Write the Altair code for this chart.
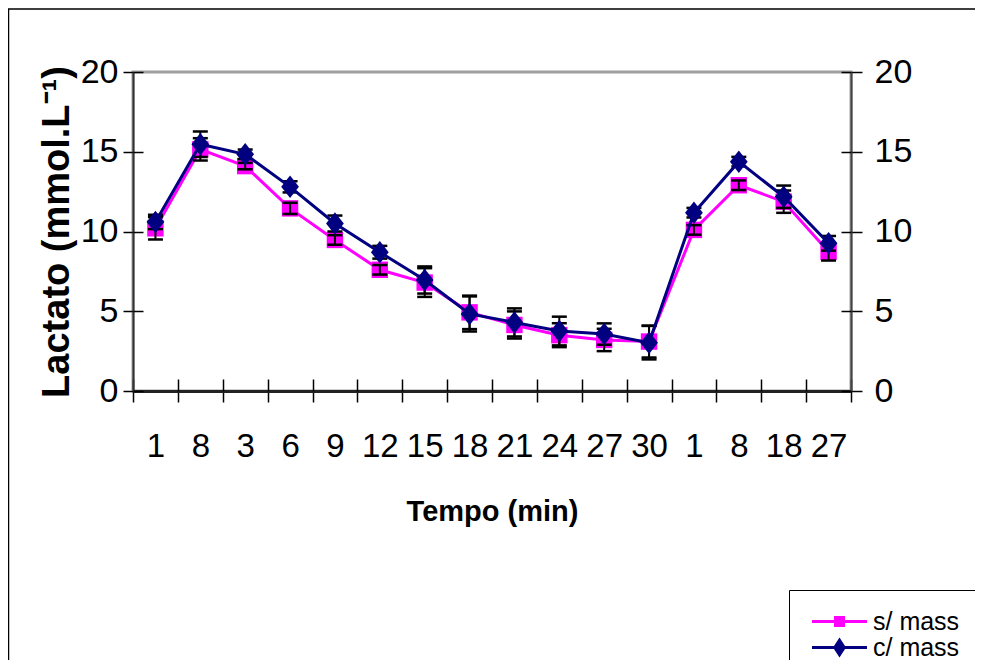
import json
import altair as alt
import pandas as pd

# ---- data ----
tick_labels = ["1", "8", "3", "6", "9", "12", "15", "18", "21", "24", "27", "30", "1", "8", "18", "27"]
series_names = ["s/ mass", "c/ mass"]
s_mean = [10.2, 15.15, 14.1, 11.45, 9.47, 7.6, 6.8, 4.93, 4.14, 3.5, 3.2, 3.1, 10.1, 12.9, 11.87, 8.73]
s_err = [0.7, 0.7, 0.2, 0.35, 0.3, 0.3, 0.9, 1.05, 0.85, 0.75, 0.7, 1.0, 0.3, 0.3, 0.7, 0.55]
c_mean = [10.6, 15.47, 14.84, 12.8, 10.5, 8.7, 6.96, 4.83, 4.3, 3.76, 3.57, 3.03, 11.18, 14.38, 12.18, 9.26]
c_err = [0.45, 0.8, 0.3, 0.35, 0.5, 0.4, 0.85, 1.1, 0.88, 0.9, 0.67, 1.05, 0.3, 0.3, 0.7, 0.46]
y_ticks = [0, 5, 10, 15, 20]

rows = []
for name, means, errs in ((series_names[0], s_mean, s_err), (series_names[1], c_mean, c_err)):
    for i, (m, e) in enumerate(zip(means, errs)):
        rows.append({"idx": i, "series": name, "mean": m, "lo": m - e, "hi": m + e})
df = pd.DataFrame(rows)

MAG = "#FF00FF"
NAVY = "#000080"
SANS = "Liberation Sans, Arial, sans-serif"

W, H = 718, 319
x_scale = alt.Scale(type="band", paddingInner=0, paddingOuter=0, domain=list(range(len(tick_labels))))
y_scale = alt.Scale(domain=[0, 20], nice=False)
label_expr = json.dumps(tick_labels) + "[datum.value]"

x_axis_main = alt.Axis(
    orient="bottom", title="Tempo (min)", labelExpr=label_expr, labelAngle=0,
    labelFont=SANS, labelFontSize=33, labelColor="black", labelPadding=28,
    labelOverlap=False, tickBand="extent", tickSize=11, tickWidth=1.5, tickColor="black",
    domainColor="#222222", domainWidth=3, grid=False,
    titleFont=SANS, titleFontSize=29, titleFontWeight="bold", titleColor="black",
    titlePadding=34,
)
x_axis_in = alt.Axis(
    orient="bottom", title=None, labels=False, domain=False, offset=-12, tickSize=12,
    tickBand="extent", tickWidth=1.5, tickColor="black", grid=False,
)
y_axis_left = alt.Axis(
    orient="left", values=y_ticks, title="Lactato (mmol.L⁻¹)", tickSize=10, tickWidth=1.5,
    tickColor="black", labelFont=SANS, labelFontSize=34, labelColor="black", labelPadding=5,
    domainColor="#333333", domainWidth=2, grid=False,
    titleFont=SANS, titleFontSize=38, titleFontWeight="bold", titleColor="black", titlePadding=4,
)
y_axis_right = alt.Axis(
    orient="right", values=y_ticks, title=None, tickSize=11, tickWidth=1.5, tickColor="black",
    labelFont=SANS, labelFontSize=34, labelColor="black", labelPadding=12,
    domainColor="#444444", domainWidth=2, grid=False,
)
y_axis_left_in = alt.Axis(
    orient="left", values=y_ticks, title=None, labels=False, domain=False, offset=-10,
    tickSize=10, tickWidth=1.5, tickColor="black", grid=False,
)
y_axis_right_in = alt.Axis(
    orient="right", values=y_ticks, title=None, labels=False, domain=False, offset=-10,
    tickSize=10, tickWidth=1.5, tickColor="black", grid=False,
)

base = alt.Chart(df)
s_only = alt.datum.series == series_names[0]
c_only = alt.datum.series == series_names[1]


def X(axis):
    return alt.X("idx:O", scale=x_scale, axis=axis)


def Y(field, axis):
    return alt.Y(field, type="quantitative", scale=y_scale, axis=axis)


border = alt.Chart(pd.DataFrame({"k": [0]})).mark_rect(
    filled=False, stroke="black", strokeWidth=1.5
).encode(
    x=alt.value(-124.5), x2=alt.value(1200), y=alt.value(-63), y2=alt.value(900)
)

line_s = base.transform_filter(s_only).mark_line(color=MAG, strokeWidth=3).encode(
    x=X(x_axis_main), y=Y("mean", y_axis_left)
)
pts_s = base.transform_filter(s_only).mark_point(
    shape="square", filled=True, color=MAG, size=270, opacity=1
).encode(x=X(x_axis_in), y=Y("mean", y_axis_right))

err_rule = base.mark_rule(color="black", strokeWidth=2).encode(
    x=X(None), y=Y("lo", y_axis_left_in), y2="hi:Q"
)
caps_lo = base.mark_tick(color="black", thickness=2.5, size=15, opacity=1).encode(
    x=X(None), y=Y("lo", y_axis_right_in)
)
caps_hi = base.mark_tick(color="black", thickness=2.5, size=15, opacity=1).encode(
    x=X(None), y=Y("hi", None)
)

line_c = base.transform_filter(c_only).mark_line(color=NAVY, strokeWidth=3).encode(
    x=X(None), y=Y("mean", None)
)
diamond = "M0,-0.95L0.75,0L0,0.95L-0.75,0Z"
pts_c = base.transform_filter(c_only).mark_point(
    shape=diamond, filled=True, color=NAVY, size=560, opacity=1
).encode(x=X(None), y=Y("mean", None))

# legend symbols: a short line with the marker on it (size 400 -> 10 px per unit)
legend_paths = [
    "M-0.85,-0.15H4.65V0.15H-0.85Z M1.35,-0.55H2.45V0.55H1.35Z",
    "M-0.85,-0.15H4.65V0.15H-0.85Z M1.9,-1L2.55,0L1.9,1L1.25,0Z",
]
legend_def = alt.Legend(
    orient="none", legendX=656, legendY=518, title=None,
    strokeColor="black", fillColor="white", padding=19,
    symbolSize=400, symbolStrokeWidth=0, symbolOpacity=1,
    labelFont=SANS, labelFontSize=25, labelColor="black", labelOffset=40, rowPadding=0,
)
legend_layer = base.mark_point(filled=True, opacity=0).encode(
    x=X(None), y=Y("mean", None),
    color=alt.Color("series:N", scale=alt.Scale(domain=series_names, range=[MAG, NAVY]), legend=legend_def),
    shape=alt.Shape("series:N", scale=alt.Scale(domain=series_names, range=legend_paths), legend=legend_def),
)

chart = (
    alt.layer(border, line_s, pts_s, err_rule, caps_lo, caps_hi, line_c, pts_c, legend_layer)
    .resolve_scale(x="shared", y="shared")
    .resolve_axis(x="independent", y="independent")
    .properties(
        width=W, height=H,
        autosize=alt.AutoSizeParams(type="none"),
        padding={"left": 125, "top": 64, "right": 124, "bottom": 269},
        background="white",
    )
    .configure_view(stroke="#a0a0a0", strokeWidth=3)
)

chart.save("out.html", embed_options={"renderer": "svg", "actions": False})
